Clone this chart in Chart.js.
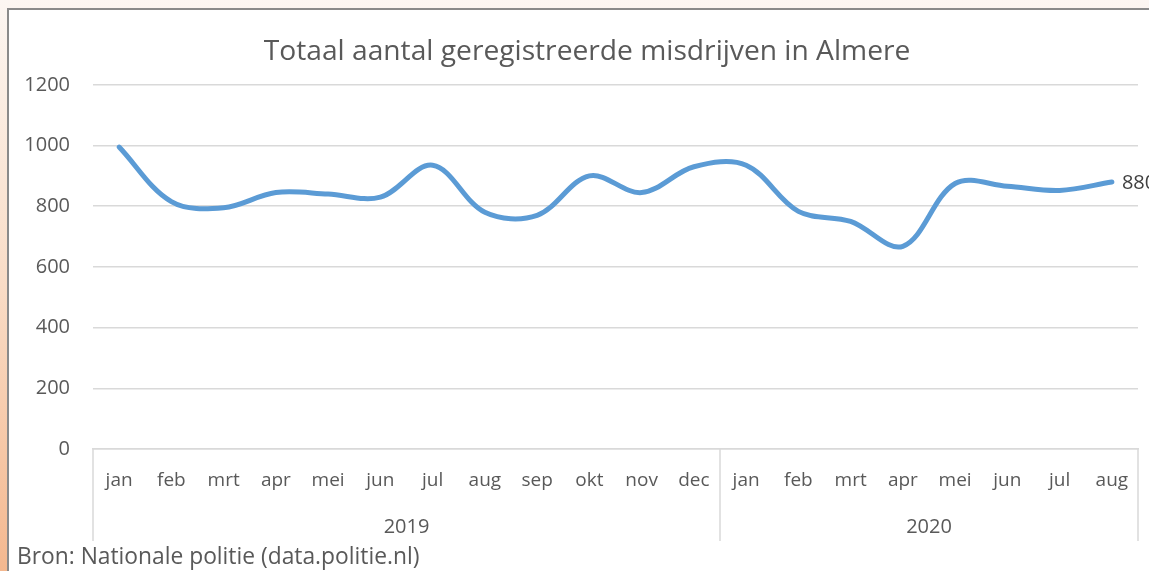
<!DOCTYPE html>
<html>
<head>
<meta charset="utf-8">
<script src="https://cdn.jsdelivr.net/npm/chart.js@4/dist/chart.umd.min.js"></script>
<style>
  html, body { margin: 0; padding: 0; width: 1149px; height: 571px; overflow: hidden; }
  body { background: linear-gradient(to bottom, #fcf6f2 0%, #f9dcc6 50%, #f4b88f 100%); position: relative; }
  #box { position: absolute; left: 7px; top: 8px; width: 1200px; height: 600px; background: #fff;
         border-left: 2px solid #8a8a8a; border-top: 2px solid #8a8a8a; }
  #cv { position: absolute; left: 0; top: 0; }
  #src { position: absolute; left: 17px; top: 541px; font-family: "Open Sans", sans-serif; font-size: 22.8px;
         color: #595959; white-space: nowrap; line-height: 30px; }
</style>
</head>
<body>
<div id="box"></div>
<canvas id="cv" width="1174" height="571"></canvas>
<div id="src">Bron: Nationale politie (data.politie.nl)</div>
<script>
const title = 'Totaal aantal geregistreerde misdrijven in Almere';
const months = ['jan','feb','mrt','apr','mei','jun','jul','aug','sep','okt','nov','dec',
                'jan','feb','mrt','apr','mei','jun','jul','aug'];
const years = ['2019', '2020'];
const yearMonthCounts = [12, 8];
const misdrijven = [995, 815, 795, 845, 840, 830, 935, 780, 770, 900, 845, 930,
                    935, 783, 750, 668, 875, 866, 852, 880];
const yTicks = [0, 200, 400, 600, 800, 1000, 1200];

const textColor = '#595959';
const gridColor = '#d9d9d9';

const groupPlugin = {
  id: 'groups',
  afterDraw(chart) {
    const ctx = chart.ctx;
    const xs = chart.scales.x;
    const area = chart.chartArea;
    const half = (xs.getPixelForValue(1) - xs.getPixelForValue(0)) / 2;
    ctx.save();
    ctx.strokeStyle = gridColor;
    ctx.lineWidth = 1.5;
    ctx.fillStyle = textColor;
    ctx.font = '20px "Open Sans", sans-serif';
    ctx.textAlign = 'center';
    ctx.textBaseline = 'middle';
    let start = 0;
    const drawSep = (x) => {
      ctx.beginPath();
      ctx.moveTo(x, area.bottom);
      ctx.lineTo(x, area.bottom + 92);
      ctx.stroke();
    };
    drawSep(xs.getPixelForValue(0) - half);
    years.forEach((y, i) => {
      const end = start + yearMonthCounts[i] - 1;
      const x0 = xs.getPixelForValue(start) - half;
      const x1 = xs.getPixelForValue(end) + half;
      drawSep(x1);
      ctx.fillText(y, (x0 + x1) / 2, area.bottom + 78);
      start = end + 1;
    });
    // data label at the last point
    const meta = chart.getDatasetMeta(0);
    const last = meta.data[meta.data.length - 1];
    ctx.fillStyle = '#404040';
    ctx.textAlign = 'left';
    ctx.fillText(String(misdrijven[misdrijven.length - 1]), last.x + 10, last.y + 1);
    ctx.restore();
  }
};

new Chart(document.getElementById('cv'), {
  type: 'line',
  data: {
    labels: months,
    datasets: [{
      data: misdrijven,
      borderColor: '#5b9bd5',
      borderWidth: 5,
      borderCapStyle: 'round',
      borderJoinStyle: 'round',
      pointRadius: 0,
      tension: 0.35,
      fill: false
    }]
  },
  options: {
    responsive: false,
    animation: false,
    layout: { padding: 0 },
    plugins: {
      legend: { display: false },
      tooltip: { enabled: false },
      title: {
        display: true,
        text: title,
        color: textColor,
        font: { family: '"Open Sans", sans-serif', size: 28.2, weight: 400, lineHeight: 1.2 },
        padding: { top: 35, bottom: 16 }
      }
    },
    scales: {
      x: {
        offset: true,
        grid: { display: false, drawTicks: false },
        border: { display: true, color: gridColor, width: 1.5 },
        ticks: { color: textColor, font: { family: '"Open Sans", sans-serif', size: 19 }, padding: 20, maxRotation: 0, autoSkip: false },
        afterFit(s) { s.height = 122; }
      },
      y: {
        min: 0, max: 1200,
        afterBuildTicks(s) { s.ticks = yTicks.map(v => ({ value: v })); },
        grid: { color: gridColor, lineWidth: 1.5, drawTicks: false },
        border: { display: false },
        ticks: { color: textColor, font: { family: '"Open Sans", sans-serif', size: 20 }, padding: 23,
                 callback: (v) => String(v) },
        afterFit(s) { s.width = 93; }
      },
      yRight: {
        type: 'linear',
        position: 'right',
        min: 0, max: 1200,
        grid: { display: false, drawTicks: false },
        border: { display: false },
        ticks: { display: false },
        afterFit(s) { s.width = 36; }
      }
    }
  },
  plugins: [groupPlugin]
});
</script>
</body>
</html>
